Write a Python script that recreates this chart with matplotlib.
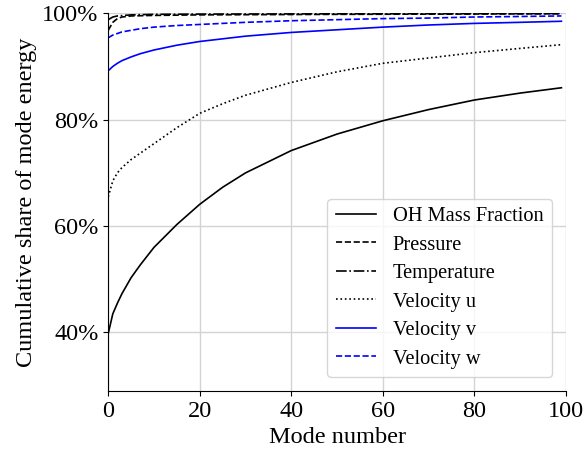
import matplotlib
matplotlib.use("Agg")
import matplotlib.pyplot as plt
from matplotlib.ticker import PercentFormatter

plt.rcParams['font.family'] = ['Liberation Serif', 'DejaVu Serif']
plt.rcParams['mathtext.fontset'] = 'stix'

# Cumulative share of mode energy (%) read at selected mode numbers
oh_modes = [0, 1, 2, 3, 5, 7, 10, 15, 20, 25, 30, 40, 50, 60, 70, 80, 90, 99]
oh_vals = [39.8, 43.5, 45.5, 47.3, 50.3, 52.7, 56.0, 60.3, 64.1, 67.3, 70.0,
           74.2, 77.3, 79.8, 81.9, 83.7, 85.0, 86.0]

p_modes = [0, 1, 2, 3, 5, 10, 20, 50, 99]
p_vals = [96.8, 98.3, 99.0, 99.3, 99.5, 99.6, 99.7, 99.8, 99.9]

t_modes = [0, 1, 2, 5, 10, 20, 50, 99]
t_vals = [98.8, 99.3, 99.5, 99.7, 99.8, 99.85, 99.9, 99.95]

u_modes = [0, 1, 2, 3, 5, 8, 10, 15, 20, 25, 30, 40, 50, 60, 70, 80, 90, 99]
u_vals = [65.5, 68.5, 70.0, 71.0, 72.5, 74.3, 75.5, 78.5, 81.2, 83.0, 84.6,
          87.0, 89.0, 90.6, 91.6, 92.6, 93.4, 94.1]

v_modes = [0, 1, 2, 3, 5, 7, 10, 15, 20, 25, 30, 40, 50, 60, 70, 80, 90, 99]
v_vals = [89.2, 90.0, 90.6, 91.1, 91.8, 92.4, 93.1, 94.0, 94.7, 95.2, 95.7,
          96.4, 96.9, 97.4, 97.8, 98.1, 98.3, 98.5]

w_modes = [0, 1, 2, 3, 5, 7, 10, 15, 20, 30, 40, 50, 60, 70, 80, 90, 99]
w_vals = [95.4, 95.9, 96.2, 96.5, 96.8, 97.1, 97.4, 97.7, 97.9, 98.3, 98.6,
          98.8, 99.0, 99.1, 99.3, 99.4, 99.5]

labels = ["OH Mass Fraction", "Pressure", "Temperature",
          "Velocity u", "Velocity v", "Velocity w"]

fig = plt.figure(figsize=(5.85, 4.55), dpi=100)
ax = fig.add_axes([0.185, 0.1407, 0.7825, 0.8301])

lw = 1.2
ax.plot(oh_modes, oh_vals, color='black', ls='-', lw=lw, label=labels[0])
ax.plot(p_modes, p_vals, color='black', ls='--', lw=lw, label=labels[1])
ax.plot(t_modes, t_vals, color='black', ls='-.', lw=lw, label=labels[2])
ax.plot(u_modes, u_vals, color='black', ls=':', lw=lw, label=labels[3])
ax.plot(v_modes, v_vals, color='blue', ls='-', lw=lw, label=labels[4])
ax.plot(w_modes, w_vals, color='blue', ls='--', lw=lw, label=labels[5])

ax.set_xlim(0, 100)
ax.set_ylim(29, 100)
ax.set_xticks([0, 20, 40, 60, 80, 100])
ax.set_yticks([40, 60, 80, 100])
ax.yaxis.set_major_formatter(PercentFormatter(decimals=0))
ax.grid(True, color='#d3d3d3', lw=1)
ax.set_axisbelow(True)
ax.spines['top'].set_visible(False)
ax.spines['right'].set_visible(False)
ax.tick_params(labelsize=17.5)
ax.set_xlabel("Mode number", fontsize=17.5)
ax.set_ylabel("Cumulative share of mode energy", fontsize=17.5)
ax.legend(loc='lower right', fontsize=14.7, frameon=True,
          bbox_to_anchor=(1.0, 0.0), borderaxespad=0.7, labelspacing=0.45)

fig.savefig("out.png", dpi=100)
